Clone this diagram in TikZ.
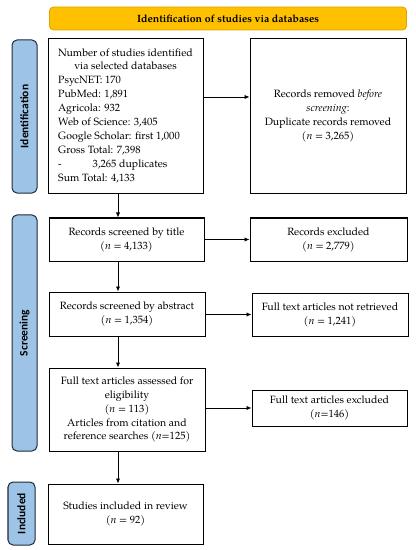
\documentclass[tikz,border=0pt]{standalone}
\usepackage{fontspec}
\setmainfont{TeX Gyre Pagella}
\newfontfamily\phasefont{Carlito}
\usetikzlibrary{arrows.meta}
\definecolor{bannerorange}{HTML}{FFC000}
\definecolor{bannerline}{HTML}{D9A400}
\definecolor{phaseblue}{HTML}{9DC3E6}
\definecolor{phaseline}{HTML}{1F2A3A}
\tikzset{
  box/.style = {draw, line width=1bp, align=center, inner sep=2bp,
    font=\fontsize{10.6}{14}\selectfont},
  phase/.style = {draw=phaseline, fill=phaseblue, line width=1bp,
    rounded corners=5bp, rotate=90, minimum height=25bp,
    font=\phasefont\bfseries\fontsize{11.5}{13}\selectfont},
  flow/.style = {-{Latex[length=5bp,width=4.5bp]}, line width=0.9bp},
}
\begin{document}
\begin{tikzpicture}[x=1bp, y=-1bp]
      \useasboundingbox (0,0) rectangle (415,550);
      % banner
      \node[draw=bannerline, fill=bannerorange, line width=0.8bp, rounded corners=4bp,
        minimum width=357bp, minimum height=23bp, font=\fontsize{10.6}{12}\selectfont\bfseries]
        at (228,18.5) (B) {Identification of studies via databases};
      % phase labels
      \node[phase, minimum width=153bp] at (24.5,116.5) (P1) {Identification};
      \node[phase, minimum width=236bp] at (24.5,333) (P2) {Screening};
      \node[phase, minimum width=63bp, minimum height=27bp] at (21.5,513.5) (P3) {Included};
      % identification
      \node[box, minimum width=155bp, minimum height=154bp] at (125.5,116) (S1) {%
        \begin{tabular}{@{}l@{}}
          \multicolumn{1}{@{}c@{}}{Number of studies identified}\\
          \multicolumn{1}{@{}c@{}}{via selected databases}\\
          PsycNET: 170\\
          PubMed: 1,891\\
          Agricola: 932\\
          Web of Science: 3,405\\
          Google Scholar: first 1,000\\
          Gross Total: 7,398\\
          -\hspace{31bp}3,265 duplicates\\
          Sum Total: 4,133
        \end{tabular}};
      \node[box, minimum width=156bp, minimum height=154bp] at (328,116) (R1)
        {Records removed \textit{before}\\ \textit{screening}:\\ Duplicate records removed\\ (\textit{n} = 3,265)};
      % screening
      \node[box, minimum width=155bp, minimum height=43bp] at (126.5,239.5) (S2)
        {Records screened by title\\ (\textit{n} = 4,133)};
      \node[box, minimum width=157bp, minimum height=43bp] at (328.5,239.5) (R2)
        {Records excluded\\ (\textit{n} = 2,779)};
      \node[box, minimum width=156bp, minimum height=44bp] at (127,314) (S3)
        {Records screened by abstract\\ (\textit{n} = 1,354)};
      \node[box, minimum width=156bp, minimum height=43bp] at (330,314.5) (R3)
        {Full text articles not retrieved\\ (\textit{n} = 1,241)};
      \node[box, minimum width=156bp, minimum height=83bp] at (127,409.5) (S4)
        {Full text articles assessed for\\ eligibility\\ (\textit{n} = 113)\\ Articles from citation and\\ reference searches (\textit{n}=125)};
      \node[box, minimum width=155bp, minimum height=36bp] at (329.5,408) (R4)
        {Full text articles excluded\\ (\textit{n}=146)};
      % included
      \node[box, minimum width=155bp, minimum height=60bp] at (125.5,514) (S5)
        {Studies included in review\\ (\textit{n} = 92)};
      % arrows down
      \draw[flow] ([xshift=-7.5bp]S1.south) -- ([xshift=-8.5bp]S2.north);
      \draw[flow] ([xshift=-8.5bp]S2.south) -- ([xshift=-9bp]S3.north);
      \draw[flow] ([xshift=-9bp]S3.south) -- ([xshift=-9bp]S4.north);
      \draw[flow] ([xshift=-9bp]S4.south) -- ([xshift=-7.5bp]S5.north);
      % arrows right
      \draw[flow] ([yshift=19bp]S1.east) -- ([yshift=19bp]R1.west);
      \draw[flow] (S2.east |- R2.west) -- (R2.west);
      \draw[flow] (S3.east |- R3.west) -- (R3.west);
      \draw[flow] (S4.east |- R4.west) -- (R4.west);
\end{tikzpicture}
\end{document}
